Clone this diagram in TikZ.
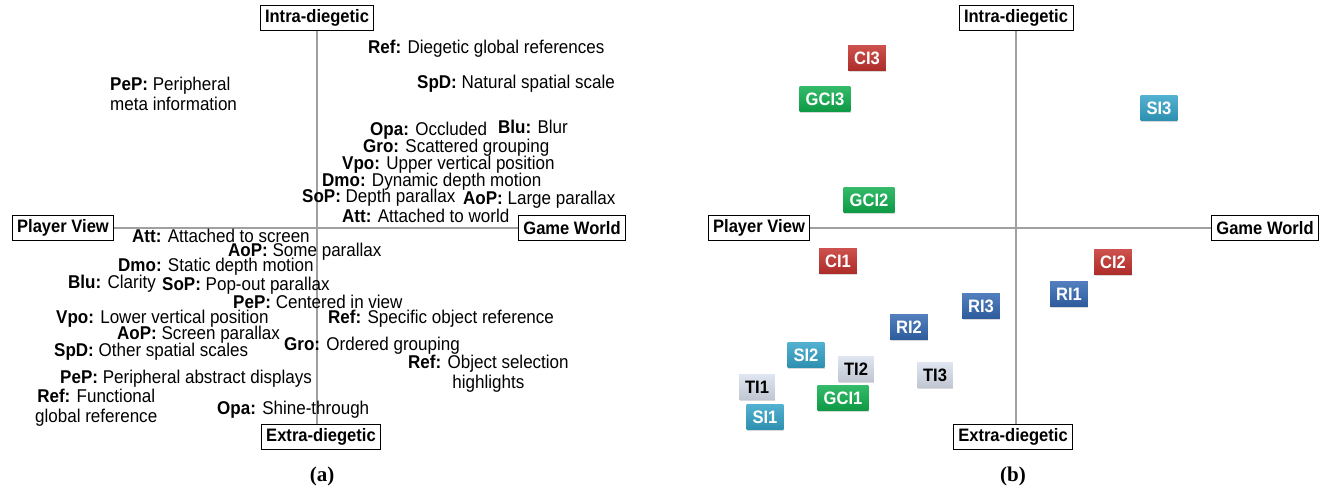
\documentclass[tikz,border=0pt]{standalone}
\usepackage{fontspec}
\setmainfont[FakeStretch=0.92]{Liberation Sans}
\newfontfamily\capfont{Liberation Serif}
\usetikzlibrary{positioning}
\usetikzlibrary{shadows}

\definecolor{axisgray}{RGB}{160,160,160}
\definecolor{tagred}{RGB}{196,50,46}
\definecolor{taggreen}{RGB}{16,174,78}
\definecolor{tagcyan}{RGB}{52,163,200}
\definecolor{tagblue}{RGB}{52,104,178}
\definecolor{taggray}{RGB}{218,225,238}

\newcommand{\kw}[1]{\textbf{#1:}}

\begin{document}
\begin{tikzpicture}[x=1pt, y=-1pt]
                \tikzstyle{axisline} = [draw=axisgray, line width=1.6pt]
                \tikzstyle{polebox} = [draw=black, line width=1pt, fill=white, inner xsep=5pt, minimum height=25pt, font=\fontsize{18}{18}\selectfont\bfseries]
                \tikzstyle{lbl} = [anchor=west, inner sep=0pt, font=\fontsize{18.5}{20}\selectfont]
                \tikzstyle{tag} = [inner xsep=6pt, minimum height=25pt, text=white, top color={#1!85!white}, bottom color={#1!88!black}, drop shadow={shadow xshift=0.5pt, shadow yshift=-1.5pt, opacity=0.3}, font=\fontsize{18}{18}\selectfont\bfseries]
                \tikzstyle{capt} = [font=\fontsize{21}{21}\selectfont\capfont\bfseries]
                \useasboundingbox (0, 0) rectangle (1328, 492);
                % (a) design space
                \node[polebox] (intraA) at (317, 18) {Intra-diegetic};
                \node[polebox] (extraA) at (321, 437) {Extra-diegetic};
                \node[polebox] (playerA) at (63, 228) {Player View};
                \node[polebox] (worldA) at (572, 228) {Game World};
                \draw[axisline] (intraA.south) -- (intraA.south |- extraA.north);
                \draw[axisline] (playerA.east) -- (worldA.west);
                \node[lbl] (refDiegA) at (368, 49) {\kw{Ref} Diegetic global references};
                \node[lbl, align=left] (pepMetaA) at (110, 94) {\kw{PeP} Peripheral\\meta information};
                \node[lbl] (spdNatA) at (417, 84) {\kw{SpD} Natural spatial scale};
                \node[lbl] (opaOccA) at (370, 131) {\kw{Opa} Occluded};
                \node[lbl] (bluBlurA) at (498, 127) {\kw{Blu} Blur};
                \node[lbl] (groScatA) at (363, 148) {\kw{Gro} Scattered grouping};
                \node[lbl] (vpoUpA) at (342, 165) {\kw{Vpo} Upper vertical position};
                \node[lbl] (dmoDynA) at (322, 182) {\kw{Dmo} Dynamic depth motion};
                \node[lbl] (sopDepthA) at (302, 198) {\kw{SoP} Depth parallax};
                \node[lbl] (aopLargeA) at (463, 200) {\kw{AoP} Large parallax};
                \node[lbl] (attWorldA) at (342, 216) {\kw{Att} Attached to world};
                \node[lbl] (attScreenA) at (132, 236) {\kw{Att} Attached to screen};
                \node[lbl] (aopSomeA) at (228, 252) {\kw{AoP} Some parallax};
                \node[lbl] (dmoStatA) at (118, 267) {\kw{Dmo} Static depth motion};
                \node[lbl] (bluClarA) at (68, 284) {\kw{Blu} Clarity};
                \node[lbl] (sopPopA) at (162, 286) {\kw{SoP} Pop-out parallax};
                \node[lbl] (pepCentA) at (233, 302) {\kw{PeP} Centered in view};
                \node[lbl] (vpoLowA) at (56, 319) {\kw{Vpo} Lower vertical position};
                \node[lbl] (refSpecA) at (328, 319) {\kw{Ref} Specific object reference};
                \node[lbl] (aopScrA) at (117, 335) {\kw{AoP} Screen parallax};
                \node[lbl] (groOrdA) at (284, 346) {\kw{Gro} Ordered grouping};
                \node[lbl] (spdOthA) at (54, 352) {\kw{SpD} Other spatial scales};
                \node[lbl, align=center] (refSelA) at (408, 374) {\kw{Ref} Object selection\\highlights};
                \node[lbl] (pepAbsA) at (60, 379) {\kw{PeP} Peripheral abstract displays};
                \node[lbl, align=center] (refFuncA) at (35, 408) {\kw{Ref} Functional\\global reference};
                \node[lbl] (opaShineA) at (217, 410) {\kw{Opa} Shine-through};
                \node[capt] (captA) at (322, 476) {(a)};
                % (b) placement of the techniques
                \node[polebox] (intraB) at (1016, 18) {Intra-diegetic};
                \node[polebox] (extraB) at (1013, 437) {Extra-diegetic};
                \node[polebox] (playerB) at (759, 228) {Player View};
                \node[polebox] (worldB) at (1265, 228) {Game World};
                \draw[axisline] (intraB.south) -- (intraB.south |- extraB.north);
                \draw[axisline] (playerB.east) -- (worldB.west);
                \node[tag=tagred] (ci3) at (867, 58) {CI3};
                \node[tag=taggreen] (gci3) at (825, 99) {GCI3};
                \node[tag=tagcyan] (si3) at (1159, 108) {SI3};
                \node[tag=taggreen] (gci2) at (869, 200) {GCI2};
                \node[tag=tagred] (ci1) at (838, 261) {CI1};
                \node[tag=tagred] (ci2) at (1113, 262) {CI2};
                \node[tag=tagblue] (ri1) at (1069, 294) {RI1};
                \node[tag=tagblue] (ri3) at (981, 306) {RI3};
                \node[tag=tagblue] (ri2) at (909, 327) {RI2};
                \node[tag=tagcyan] (si2) at (806, 355) {SI2};
                \node[tag=taggray, text=black] (ti2) at (856, 369) {TI2};
                \node[tag=taggray, text=black] (ti3) at (935, 375) {TI3};
                \node[tag=taggray, text=black] (ti1) at (757, 387) {TI1};
                \node[tag=taggreen] (gci1) at (843, 398) {GCI1};
                \node[tag=tagcyan] (si1) at (765, 417) {SI1};
                \node[capt] (captB) at (1013, 476) {(b)};
            \end{tikzpicture}
\end{document}
